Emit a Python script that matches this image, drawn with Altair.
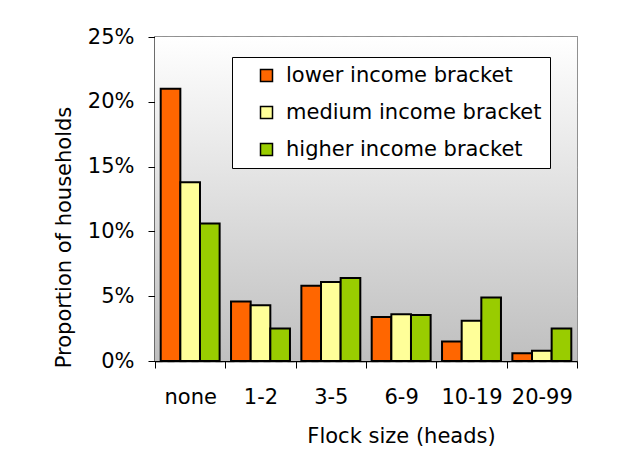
import altair as alt
import pandas as pd

categories = ["none", "1-2", "3-5", "6-9", "10-19", "20-99"]
series = ["lower income bracket", "medium income bracket", "higher income bracket"]
lower = [21.0, 4.6, 5.8, 3.4, 1.5, 0.6]
medium = [13.8, 4.3, 6.1, 3.6, 3.1, 0.8]
higher = [10.6, 2.5, 6.4, 3.55, 4.9, 2.5]
colors = ["#FF6600", "#FFFF99", "#99CC00"]
y_ticks = [0, 5, 10, 15, 20, 25]

rows = []
for name, vals in zip(series, [lower, medium, higher]):
    for c, v in zip(categories, vals):
        rows.append({"cat": c, "series": name, "value": v})
df = pd.DataFrame(rows)

FONT = "DejaVu Sans"
FS = 21

gradient = alt.LinearGradient(gradient="linear",
                              stops=[alt.GradientStop(color="#ffffff", offset=0),
                                     alt.GradientStop(color="#bfbfbf", offset=1)],
                              x1=0, x2=0, y1=0, y2=1)

bg = alt.Chart(pd.DataFrame({"k": [0]})).mark_rect(fill=gradient, strokeWidth=0).encode(
    x=alt.value(0), x2=alt.value("width"), y=alt.value(0), y2=alt.value("height")
)

bars = alt.Chart(df).mark_bar(stroke="black", strokeWidth=2).encode(
    x=alt.X("cat:N", sort=categories,
            scale=alt.Scale(paddingInner=0, paddingOuter=0),
            axis=alt.Axis(title="Flock size (heads)", labelAngle=0, tickBand="extent",
                          tickSize=7, labelPadding=18, domainColor="black", domainWidth=1.5,
                          tickColor="black", tickWidth=1, grid=False,
                          titleX=246, titleY=81, titleBaseline="alphabetic")),
    xOffset=alt.XOffset("series:N", sort=series,
                        scale=alt.Scale(paddingInner=0, paddingOuter=0.29)),
    y=alt.Y("value:Q", scale=alt.Scale(domain=[0, 25], nice=False),
            axis=alt.Axis(title="Proportion of households", values=y_ticks,
                          labelExpr="datum.value + '%'", tickSize=7, labelPadding=14,
                          domainColor="black", domainWidth=1.5, tickColor="black",
                          grid=True, gridDash=[7, 5], gridColor="#a0a0a0", gridWidth=1.5,
                          titleX=-85, titleY=200, titleBaseline="alphabetic")),
    color=alt.Color("series:N", sort=series,
                    scale=alt.Scale(domain=series, range=colors),
                    legend=alt.Legend(title=None, orient="none", legendX=77, legendY=20,
                                      fillColor="white", strokeColor="black", padding=8,
                                      symbolType="square", symbolSize=144,
                                      symbolStrokeColor="black", symbolStrokeWidth=1.5,
                                      symbolOffset=16, labelOffset=9, rowPadding=15,
                                      labelLimit=500,
                                      labelFont=FONT, labelFontSize=FS, labelColor="black")),
)

chart = alt.layer(bg, bars).properties(
    width=422, height=324,
    autosize=alt.AutoSizeParams(type="none"),
    padding={"left": 147, "top": 29, "right": 38, "bottom": 92},
    background="white",
).configure_view(
    stroke="#909090", strokeWidth=2,
).configure_axis(
    labelFont=FONT, labelFontSize=FS, labelColor="black",
    titleFont=FONT, titleFontSize=FS, titleColor="black", titleFontWeight="normal",
)

chart.save("out.html", embed_options={"renderer": "svg", "actions": False})
